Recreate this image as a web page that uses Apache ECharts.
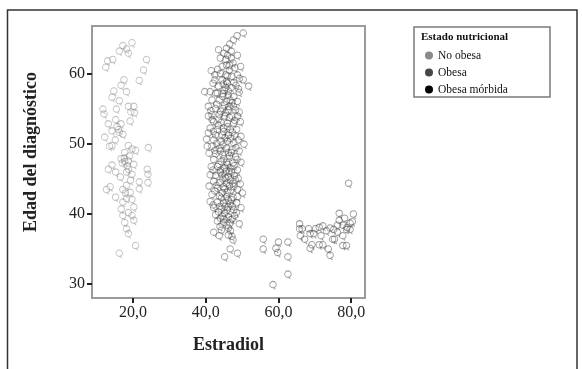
<!DOCTYPE html>
<html>
<head>
<meta charset="utf-8">
<script src="https://cdn.jsdelivr.net/npm/echarts@6/dist/echarts.min.js"></script>
<style>
  html, body { margin: 0; padding: 0; background: #fff; }
  #chart { width: 582px; height: 369px; }
</style>
</head>
<body>
<div id="chart"></div>
<script>
// [estradiol, edad]
const noObesa = [
  [17.2, 64.0], [19.7, 64.4], [16.2, 63.2], [18.2, 63.5], [18.7, 62.9], [14.4, 62.0], [13.0, 61.8],
  [12.5, 60.9], [23.7, 62.0], [22.9, 60.5], [21.7, 59.0], [17.5, 59.1], [16.7, 58.3], [14.7, 57.5],
  [18.2, 57.4], [14.2, 56.6], [16.2, 56.1], [11.7, 54.9], [12.0, 54.2], [15.4, 54.9], [18.7, 55.3],
  [20.2, 55.3], [20.4, 54.4], [19.4, 54.5], [13.2, 52.8], [15.2, 53.4], [16.7, 52.8], [19.2, 53.2],
  [14.2, 51.8], [16.0, 52.0], [17.2, 51.3], [12.2, 50.9], [14.2, 49.7], [18.7, 49.7], [19.7, 49.2],
  [20.7, 49.0], [24.2, 49.4], [17.7, 48.7], [16.7, 47.8], [17.7, 47.4], [18.7, 47.5], [20.2, 47.0],
  [14.2, 46.9], [13.2, 46.3], [15.2, 45.9], [18.2, 45.9], [19.7, 45.6], [23.9, 46.3], [24.1, 45.6],
  [24.1, 44.4], [21.7, 44.5], [18.2, 44.0], [12.7, 43.4], [17.2, 43.4], [21.7, 43.5], [19.2, 43.0],
  [15.2, 42.3], [18.2, 42.1], [19.7, 42.0], [17.2, 41.6], [20.2, 40.9], [16.7, 40.6], [18.7, 40.1],
  [17.2, 39.7], [19.7, 39.7], [20.2, 39.0], [17.7, 38.7], [18.2, 37.8], [18.7, 37.1], [20.7, 35.4],
  [16.2, 34.3], [13.7, 43.8], [18.7, 46.3], [17.0, 47.2], [19.0, 48.2], [16.2, 51.6], [15.6, 52.4],
  [17.6, 47.9], [18.4, 46.8], [16.5, 45.2], [19.3, 44.7], [13.5, 49.6], [15.1, 50.5], [17.9, 42.9]
];

const obesa = [
  [50.3, 65.8], [48.6, 65.4], [47.6, 64.8], [46.6, 64.2], [45.7, 63.6], [43.5, 63.4], [45.0, 62.9],
  [44.0, 62.2], [45.5, 62.0], [47.0, 62.2], [47.5, 61.5], [45.7, 61.2], [44.5, 61.0], [46.5, 60.5],
  [48.0, 60.8], [41.5, 60.4], [42.5, 59.8], [44.0, 60.0], [45.5, 59.8], [49.3, 59.3], [50.3, 59.1],
  [42.5, 59.1], [45.7, 58.9], [47.7, 58.7], [43.5, 58.2], [45.5, 58.0], [47.0, 58.0], [49.0, 57.8],
  [51.8, 58.2], [39.7, 57.4], [41.2, 57.4], [42.7, 57.2], [44.7, 57.1], [46.2, 56.9], [47.7, 56.7],
  [49.2, 57.3], [41.7, 56.2], [43.7, 56.2], [45.7, 56.0], [47.2, 55.8], [48.7, 56.0], [40.7, 55.3],
  [42.7, 55.0], [44.7, 55.0], [46.2, 54.8], [48.2, 54.8], [41.7, 54.1], [43.7, 54.1], [45.2, 53.9],
  [47.2, 53.9], [48.7, 53.9], [42.2, 53.1], [44.2, 53.0], [45.9, 52.9], [47.7, 52.9], [49.5, 53.1],
  [41.2, 52.2], [43.2, 52.0], [44.9, 52.2], [46.7, 52.0], [48.5, 52.0], [42.7, 51.2], [44.5, 51.2],
  [46.2, 51.2], [47.9, 51.1], [49.7, 51.0], [40.2, 50.6], [42.2, 50.5], [44.2, 50.3], [45.9, 50.3],
  [47.7, 50.1], [50.5, 49.9], [41.7, 49.6], [43.7, 49.3], [45.7, 49.3], [47.2, 49.1], [49.2, 48.9],
  [42.7, 48.5], [44.7, 48.4], [46.5, 48.2], [48.2, 48.1], [42.2, 47.7], [44.2, 47.4], [45.7, 47.3],
  [47.5, 47.2], [49.7, 47.3], [43.2, 46.7], [45.2, 46.5], [46.7, 46.5], [48.7, 46.2], [41.2, 45.5],
  [42.7, 45.4], [44.5, 45.5], [46.2, 45.3], [47.9, 45.4], [42.2, 44.6], [43.9, 44.4], [45.7, 44.3],
  [47.5, 44.3], [49.5, 44.2], [43.2, 43.6], [45.2, 43.5], [46.9, 43.3], [48.7, 43.4], [41.7, 42.7],
  [43.7, 42.5], [45.7, 42.4], [47.5, 42.3], [50.1, 42.9], [41.2, 41.7], [43.2, 41.6], [44.9, 41.5],
  [46.7, 41.4], [48.5, 41.5], [42.2, 40.8], [44.2, 40.6], [45.9, 40.5], [47.7, 40.5], [49.7, 40.8],
  [42.7, 39.8], [44.5, 39.6], [46.2, 39.5], [47.9, 39.7], [43.2, 38.9], [44.9, 38.7], [46.7, 38.6],
  [43.9, 38.1], [46.2, 37.9], [42.2, 37.3], [46.2, 36.9], [47.2, 36.7], [46.7, 34.9], [45.2, 33.8],
  [48.7, 34.3], [47.5, 36.2], [44.7, 56.7], [46.7, 56.2], [45.2, 55.5], [46.5, 53.7], [44.9, 51.7],
  [46.8, 50.7], [44.7, 49.8], [46.2, 48.7], [45.0, 47.8], [46.4, 46.0], [44.7, 44.9], [46.5, 43.9],
  [44.5, 42.9], [46.2, 41.9], [45.2, 40.0], [46.9, 39.1], [40.7, 53.9], [40.7, 51.5], [40.9, 48.6],
  [41.5, 46.7], [40.9, 43.9], [40.4, 49.6], [41.7, 53.4], [43.2, 57.2], [44.5, 59.1], [45.9, 59.6],
  [47.2, 59.6], [48.7, 59.8], [46.5, 61.2], [45.4, 54.4], [46.0, 52.4], [45.3, 50.8], [46.0, 47.0],
  [45.5, 45.0], [45.9, 43.0], [45.3, 41.0], [44.0, 39.3], [46.4, 55.3], [45.1, 57.6], [46.0, 58.6],
  [43.0, 55.6], [44.1, 54.6], [47.6, 55.3], [48.0, 53.3], [43.4, 52.6], [47.3, 51.6], [48.9, 50.5],
  [43.0, 50.0], [44.0, 48.9], [47.0, 48.7], [48.6, 47.7], [43.6, 47.0], [47.8, 46.8], [42.0, 46.2],
  [44.0, 45.9], [47.1, 45.9], [48.9, 45.0], [42.9, 44.0], [44.8, 43.8], [47.7, 43.8], [42.5, 43.2],
  [44.3, 42.2], [47.0, 42.0], [48.8, 42.4], [42.0, 41.2], [43.9, 41.0], [47.3, 41.0], [43.5, 40.2],
  [45.0, 39.2], [47.3, 39.2], [45.8, 38.3], [44.3, 37.6], [44.8, 58.5], [43.3, 60.6], [42.0, 58.6],
  [48.3, 58.3], [46.2, 57.5], [41.4, 54.7], [43.6, 53.5], [49.2, 54.5], [42.1, 51.7], [48.3, 49.4],
  [42.5, 49.0], [46.8, 44.8], [45.6, 46.0], [44.1, 46.2], [48.1, 44.8], [46.1, 40.9], [48.4, 40.1],
  [46.8, 37.5], [43.7, 36.8], [49.2, 38.5], [47.0, 63.2], [48.7, 62.6], [46.0, 62.6], [49.6, 61.0]
];

const obesaMorbida = [
  [55.8, 36.3], [55.8, 34.9], [60.0, 35.9], [59.3, 35.0], [59.8, 34.4], [62.6, 35.9], [62.6, 33.8],
  [62.6, 31.3], [58.5, 29.8], [65.8, 38.5], [65.8, 37.8], [68.3, 37.8], [66.0, 36.8], [67.2, 36.3],
  [68.7, 37.1], [70.2, 37.8], [71.2, 38.0], [69.2, 35.5], [68.7, 35.0], [71.2, 35.5], [72.2, 35.5],
  [71.7, 36.8], [73.2, 37.5], [73.7, 34.9], [74.2, 34.0], [75.2, 37.7], [75.4, 36.3], [76.2, 37.3],
  [76.2, 38.3], [76.7, 39.0], [77.7, 38.3], [76.7, 40.0], [78.2, 39.3], [78.7, 37.7], [77.7, 36.8],
  [77.7, 35.4], [78.7, 35.4], [79.7, 37.7], [79.7, 38.6], [80.6, 39.9], [79.3, 44.3], [74.9, 36.3],
  [66.5, 37.8], [69.7, 37.1], [72.2, 38.2], [74.2, 37.9], [80.3, 38.8], [78.9, 38.0]
];

const seriesNames = ["No obesa", "Obesa", "Obesa mórbida"];
const legendColors = ["#8a8a8a", "#474747", "#000000"];
const markColors = ["rgba(130,130,130,0.6)", "rgba(60,60,60,0.6)", "rgba(50,50,50,0.6)"];
const xTicks = [20, 40, 60, 80];
const yTicks = [30, 40, 50, 60];

// SPSS-like "Q" marker: small ring with a tail
const qSymbol = "path://M5,1A4,4,0,1,0,5.01,1ZM6,9L8,11";

const serif = "'Liberation Serif', 'DejaVu Serif', serif";
const chart = echarts.init(document.getElementById("chart"));

chart.setOption({
  animation: false,
  backgroundColor: "#fff",
  grid: {
    left: 92, top: 26, width: 273, height: 272,
    show: true, borderColor: "#9a9a9a", borderWidth: 2, backgroundColor: "#fff"
  },
  xAxis: {
    type: "value", min: 8.7, max: 83.8,
    splitLine: { show: false },
    axisLine: { show: false },
    axisTick: { show: true, length: 5, customValues: xTicks, lineStyle: { color: "#222", width: 2 } },
    axisLabel: {
      customValues: xTicks, margin: 7, color: "#222", fontFamily: serif, fontSize: 16,
      formatter: (v) => v.toFixed(1).replace(".", ",")
    }
  },
  yAxis: {
    type: "value", min: 28, max: 66.9,
    splitLine: { show: false },
    axisLine: { show: false },
    axisTick: { show: true, length: 5, customValues: yTicks, lineStyle: { color: "#222", width: 2 } },
    axisLabel: { customValues: yTicks, margin: 7, color: "#222", fontFamily: serif, fontSize: 16 }
  },
  legend: {
    orient: "vertical", left: 425, top: 49.5, padding: 0,
    itemWidth: 8, itemHeight: 8, itemGap: 5, icon: "circle",
    textStyle: { fontFamily: serif, fontSize: 11.5, color: "#111" },
    data: seriesNames.map((n, i) => ({
      name: n, itemStyle: { color: legendColors[i], borderWidth: 0, opacity: 1 }
    }))
  },
  graphic: [
    // outer frame
    { type: "rect", shape: { x: 7.5, y: 10, width: 569.5, height: 380 },
      style: { fill: "none", stroke: "#333", lineWidth: 1.5 }, silent: true, z: -1 },
    // legend box
    { type: "rect", shape: { x: 414, y: 27, width: 136, height: 70 },
      style: { fill: "none", stroke: "#7a7a7a", lineWidth: 1.5 }, silent: true },
    { type: "text", x: 421, y: 37.5,
      style: { text: "Estado nutricional", fontFamily: serif, fontSize: 11, fontWeight: "bold",
        fill: "#111", textVerticalAlign: "middle" } },
    { type: "text", x: 31, y: 152, rotation: Math.PI / 2,
      style: { text: "Edad del diagnóstico", fontFamily: serif, fontSize: 18, fontWeight: "bold",
        fill: "#222", textAlign: "center", textVerticalAlign: "middle" } },
    { type: "text", x: 228.5, y: 345,
      style: { text: "Estradiol", fontFamily: serif, fontSize: 18, fontWeight: "bold",
        fill: "#222", textAlign: "center", textVerticalAlign: "middle" } }
  ],
  series: [noObesa, obesa, obesaMorbida].map((d, i) => ({
    name: seriesNames[i],
    type: "scatter",
    data: d,
    symbol: qSymbol,
    symbolSize: [6.5, 8],
    itemStyle: { color: "rgba(0,0,0,0)", borderColor: markColors[i], borderWidth: 1 }
  }))
});
</script>
</body>
</html>
